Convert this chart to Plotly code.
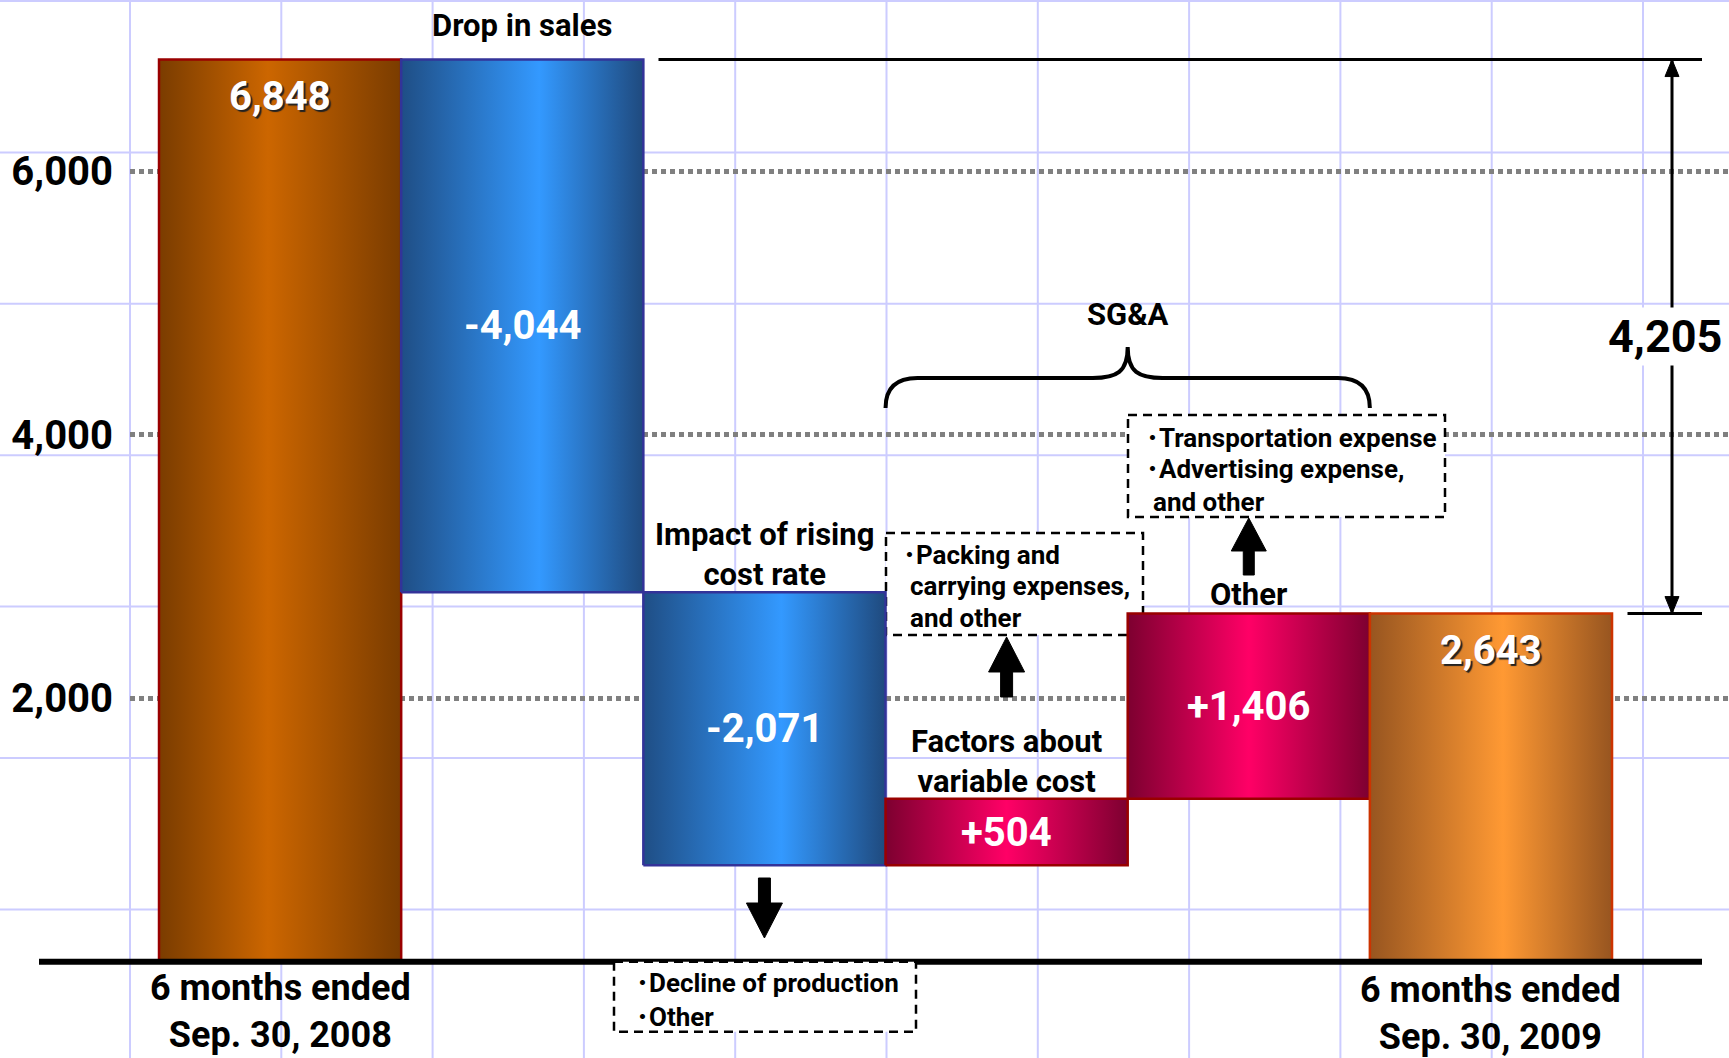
import plotly.graph_objects as go

# ---------------- data ----------------
categories = [
    "6 months ended<br>Sep. 30, 2008",
    "Drop in sales",
    "Impact of rising<br>cost rate",
    "Factors about<br>variable cost",
    "Other",
    "6 months ended<br>Sep. 30, 2009",
]
start_value = 6848
change_values = [-4044, -2071, 504, 1406]
end_value = 2643
y_tick_values = [2000, 4000, 6000]
group_label = "SG&A"
decline_notes = ["･Decline of production", "･Other"]
packing_notes = ["･Packing and", "carrying expenses,", "and other"]
transport_notes = ["･Transportation expense", "･Advertising expense,", "and other"]

# ---------------- layout constants ----------------
W, H = 1729, 1058
ML = 130
X_RANGE = [-0.6198, 5.983]
Y_RANGE = [-730, 7300]
FONT = "Roboto, Noto Sans CJK JP, sans-serif"


def px_x(k):
    return ML + (k - X_RANGE[0]) / (X_RANGE[1] - X_RANGE[0]) * (W - ML)


def px_y(v):
    return (Y_RANGE[1] - v) / (Y_RANGE[1] - Y_RANGE[0]) * H


def data_x(px):
    return X_RANGE[0] + (px - ML) / (W - ML) * (X_RANGE[1] - X_RANGE[0])


def data_y(py):
    return Y_RANGE[1] - py / H * (Y_RANGE[1] - Y_RANGE[0])


def paper_x(px):
    return (px - ML) / (W - ML)


def paper_y(py):
    return 1 - py / H


def P(x, y):
    return f"{paper_x(x):.5f},{paper_y(y):.5f}"


# ---------------- waterfall geometry from data ----------------
bases, tops = [0], [start_value]
level = start_value
for c in change_values:
    new = level + c
    bases.append(min(level, new))
    tops.append(max(level, new))
    level = new
bases.append(0)
tops.append(end_value)

value_labels = ([f"{start_value:,}"]
                + [("-" if c < 0 else "+") + f"{abs(c):,}" for c in change_values]
                + [f"{end_value:,}"])

BROWN = [[0, "#7a3c00"], [0.45, "#cc6600"], [1, "#7a3c00"]]
BLUE = [[0, "#1f4e85"], [0.57, "#3399ff"], [1, "#1f4a7e"]]
MAGENTA = [[0, "#7d0030"], [0.5, "#ff0066"], [1, "#7d0030"]]
ORANGE = [[0, "#975520"], [0.55, "#ff9933"], [1, "#975520"]]
bar_styles = [
    (BROWN, "#990000"), (BLUE, "#333399"), (BLUE, "#333399"),
    (MAGENTA, "#990000"), (MAGENTA, "#990000"), (ORANGE, "#cc3300"),
]

fig = go.Figure()
for k in range(len(categories)):
    cs, border = bar_styles[k]
    x0, x1 = k - 0.5, k + 0.5
    fig.add_trace(go.Scatter(
        x=[x0, x1, x1, x0, x0],
        y=[bases[k], bases[k], tops[k], tops[k], bases[k]],
        mode="lines", fill="toself",
        fillgradient=dict(type="horizontal", colorscale=cs),
        line=dict(color=border, width=2.5),
        hoverinfo="skip", showlegend=False, name=categories[k].replace("<br>", " "),
    ))

shapes = []
annotations = []

# background lavender grid
for i in range(11):
    x = 130 + 151.3 * i
    shapes.append(dict(type="line", xref="paper", yref="paper", x0=paper_x(x), x1=paper_x(x), y0=0, y1=1,
                       line=dict(color="#ccccff", width=2), layer="below"))
for i in range(7):
    y = 1 + 151.4 * i
    shapes.append(dict(type="line", xref="paper", yref="paper", x0=paper_x(0), x1=paper_x(W),
                       y0=paper_y(y), y1=paper_y(y), line=dict(color="#ccccff", width=2), layer="below"))

# baseline
shapes.append(dict(type="line", xref="paper", yref="y", x0=paper_x(39), x1=paper_x(1702), y0=0, y1=0,
                   line=dict(color="black", width=6), layer="above"))

DASH = dict(color="black", width=2.5, dash="9px,6px")

# decline box (sits on the baseline)
base_px = px_y(0)
shapes.append(dict(type="rect", xref="paper", yref="paper", x0=paper_x(614), x1=paper_x(916),
                   y0=paper_y(base_px), y1=paper_y(base_px + 70), fillcolor="white", line=DASH, layer="above"))
# packing & transport boxes (between gridlines and bars)
shapes.append(dict(type="rect", xref="x", yref="y", x0=data_x(886), x1=data_x(1143), y0=data_y(533), y1=data_y(635),
                   fillcolor="white", line=DASH, layer="between"))
shapes.append(dict(type="rect", xref="x", yref="y", x0=data_x(1128), x1=data_x(1445), y0=data_y(415), y1=data_y(517),
                   fillcolor="white", line=DASH, layer="between"))

# reference lines for the span between the two periods
shapes.append(dict(type="line", xref="paper", yref="y", x0=paper_x(658.5), x1=paper_x(1702),
                   y0=start_value, y1=start_value, line=dict(color="black", width=3), layer="above"))
shapes.append(dict(type="line", xref="paper", yref="y", x0=paper_x(1627.5), x1=paper_x(1702),
                   y0=end_value, y1=end_value, line=dict(color="black", width=3), layer="above"))
AX = 1672
shapes.append(dict(type="line", xref="paper", yref="y", x0=paper_x(AX), x1=paper_x(AX), y0=end_value, y1=start_value,
                   line=dict(color="black", width=3), layer="above"))
t_top, t_bot = px_y(start_value), px_y(end_value)
for tip, base in [(t_top, t_top + 17), (t_bot, t_bot - 17)]:
    shapes.append(dict(type="path", xref="paper", yref="paper", layer="above",
                       path=f"M {P(AX, tip)} L {P(AX + 7, base)} L {P(AX - 7, base)} Z",
                       fillcolor="black", line=dict(color="black", width=1)))


def block_arrow(cx, tip, base, tail, head_w=36, shaft_w=12):
    hw, sw = head_w / 2, shaft_w / 2
    pts = [(cx, tip), (cx + hw, base), (cx + sw, base), (cx + sw, tail),
           (cx - sw, tail), (cx - sw, base), (cx - hw, base)]
    return dict(type="path", xref="paper", yref="paper", layer="above",
                path="M " + " L ".join(P(x, y) for x, y in pts) + " Z",
                fillcolor="black", line=dict(color="black", width=1))


shapes.append(block_arrow(px_x(2), 938, 903, 878))
shapes.append(block_arrow(px_x(3), 637, 672, 697))
shapes.append(block_arrow(px_x(4), 518, 551, 575, head_w=35, shaft_w=11))

# SG&A brace over bars 3 and 4
Lb, Rb, Mb = px_x(2.5), px_x(4.5), px_x(3.5)
yb, yh, yp = 408, 378, 347
brace = (f"M {P(Lb, yb)} Q {P(Lb, yh)} {P(Lb + 32, yh)} L {P(Mb - 35, yh)} "
         f"C {P(Mb - 11, yh)} {P(Mb, yh - 6)} {P(Mb, yp)} "
         f"C {P(Mb, yh - 6)} {P(Mb + 11, yh)} {P(Mb + 35, yh)} "
         f"L {P(Rb - 32, yh)} Q {P(Rb, yh)} {P(Rb, yb)}")
shapes.append(dict(type="path", xref="paper", yref="paper", layer="above", path=brace,
                   line=dict(color="black", width=4)))


def txt(x, y, s, size, color="black", xref="x", yref="y", xanchor="center", yshift=0, align="center", **extra):
    font = dict(family=FONT, size=size, color=color, weight="bold")
    font.update(extra.pop("font_extra", {}))
    d = dict(x=x, y=y, xref=xref, yref=yref, text=s, showarrow=False, xanchor=xanchor, yanchor="middle",
             yshift=yshift, font=font, align=align)
    d.update(extra)
    annotations.append(d)


# value labels
SHADOW = "2px 2px 1px #222"
for k, lab in enumerate(value_labels):
    if k in (0, len(value_labels) - 1):
        txt(k, tops[k], lab, 40, color="white", yshift=-37, font_extra=dict(shadow=SHADOW))
    else:
        txt(k, (bases[k] + tops[k]) / 2, lab, 40, color="white")

# category labels above the change bars
txt(1, tops[1], categories[1], 31, yshift=34)
txt(2, tops[2], categories[2], 31, yshift=38)
txt(3, tops[3], categories[3], 31, yshift=37, borderpad=0)
txt(4, tops[4], categories[4], 31, yshift=19)
# period labels under the baseline
txt(0, paper_y(1011), categories[0], 36, yref="paper")
txt(5, paper_y(1013), categories[5], 36, yref="paper")

# SG&A group label
txt(3.5, paper_y(314.5), group_label, 31, yref="paper")

# notes in boxes
for lines, rows in [
    (transport_notes, [(1145, 438), (1145, 469), (1152, 502)]),
    (packing_notes, [(902, 555), (909, 586), (909, 618)]),
    (decline_notes, [(635, base_px + 21), (635, base_px + 55)]),
]:
    for line, (x, y) in zip(lines, rows):
        txt(paper_x(x), paper_y(y), line, 26, xref="paper", yref="paper", xanchor="left", borderpad=0)

# span label
txt(paper_x(1664.5), (start_value + end_value) / 2, f"{start_value - end_value:,}", 45, xref="paper",
    bgcolor="white", borderpad=2)

fig.update_layout(
    width=W, height=H,
    margin=dict(l=ML, r=0, t=0, b=0, pad=0),
    paper_bgcolor="white", plot_bgcolor="rgba(0,0,0,0)",
    showlegend=False, hovermode=False,
    xaxis=dict(range=X_RANGE, visible=False, fixedrange=True),
    yaxis=dict(range=Y_RANGE, tickvals=y_tick_values, tickformat=",", showgrid=True,
               gridcolor="#808080", gridwidth=5, griddash="5px,4px", zeroline=False, showline=False,
               ticks="", tickfont=dict(family=FONT, size=40, color="black", weight="bold"),
               ticklabelstandoff=16, fixedrange=True),
    shapes=shapes, annotations=annotations,
)

fig.write_html("out.html", config={"displayModeBar": False})
